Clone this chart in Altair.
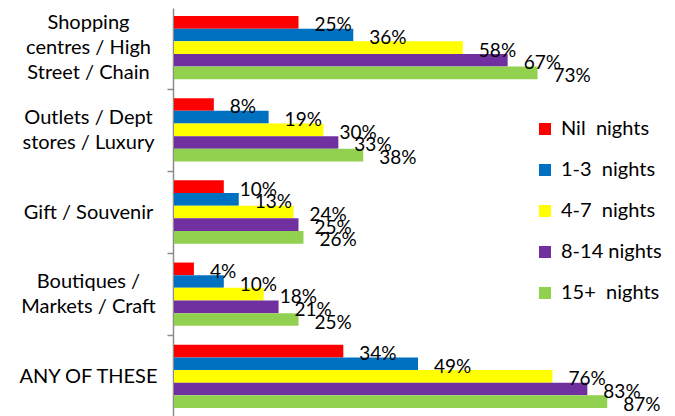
import altair as alt
import pandas as pd

categories = [
    "Shopping|centres / High|Street / Chain",
    "Outlets / Dept|stores / Luxury",
    "Gift / Souvenir",
    "Boutiques /|Markets / Craft",
    "ANY OF THESE",
]
series = ["Nil\u00a0 nights", "1-3\u00a0 nights", "4-7\u00a0 nights", "8-14 nights", "15+\u00a0 nights"]
colors = ["#FF0000", "#0070C0", "#FFFF00", "#7030A0", "#92D050"]

nil_nights = [25, 8, 10, 4, 34]
n1_3 = [36, 19, 13, 10, 49]
n4_7 = [58, 30, 24, 18, 76]
n8_14 = [67, 33, 25, 21, 83]
n15_plus = [73, 38, 26, 25, 87]

values_by_series = [nil_nights, n1_3, n4_7, n8_14, n15_plus]
rows = []
for s, vals in zip(series, values_by_series):
    for c, v in zip(categories, vals):
        rows.append({"category": c, "series": s, "value": v, "label": f"{v}%"})
df = pd.DataFrame(rows)

FONT = "Lato"
PI = 0.23
PO = 0.097
HALF_GAP = 9.5

base = alt.Chart(df).encode(
    y=alt.Y(
        "category:N",
        sort=categories,
        scale=alt.Scale(paddingInner=PI, paddingOuter=PO, range=[0, 408]),
        axis=alt.Axis(
            title=None,
            labelExpr="split(datum.label, '|')",
            labelAlign="center",
            labelBaseline="middle",
            labelPadding=79,
            labelFontSize=20,
            labelFont=FONT,
            labelLineHeight=25,
            labelColor="#000000",
            labelLimit=0,
            labelOffset={
                "condition": [
                    {"test": "length(split(datum.value, '|')) == 3", "value": HALF_GAP - 25},
                    {"test": "length(split(datum.value, '|')) == 2", "value": HALF_GAP - 12.5},
                ],
                "value": HALF_GAP,
            },
            bandPosition=0,
            tickOffset=-HALF_GAP,
            tickSize=6,
            tickColor="#8c8c8c",
            tickWidth=1.5,
            domainColor="#8c8c8c",
            domainWidth=1.5,
        ),
    ),
    yOffset=alt.YOffset("series:N", sort=series),
    x=alt.X("value:Q", scale=alt.Scale(domain=[0, 100], range=[1, 499]), axis=None),
)

bars = base.mark_bar().encode(
    color=alt.Color(
        "series:N",
        sort=series,
        scale=alt.Scale(domain=series, range=colors),
        legend=alt.Legend(
            title=None,
            orient="none",
            legendX=362,
            legendY=111,
            symbolType="square",
            symbolSize=144,
            symbolStrokeWidth=0,
            labelFontSize=20,
            labelFont=FONT,
            labelColor="#000000",
            labelOffset=6,
            rowPadding=21,
            padding=0,
        ),
    )
)

text = base.mark_text(align="left", baseline="middle", dx=16, dy=3, fontSize=19, font=FONT, color="#000000").encode(
    text="label:N"
)

chart = (
    alt.layer(bars, text)
    .properties(
        width=490,
        height=416,
        padding={"left": 165, "top": 0, "right": 0, "bottom": 0},
        autosize=alt.AutoSizeParams(type="none"),
    )
    .configure_view(stroke=None)
)

chart.save("out.html", embed_options={"renderer": "svg", "actions": False})
